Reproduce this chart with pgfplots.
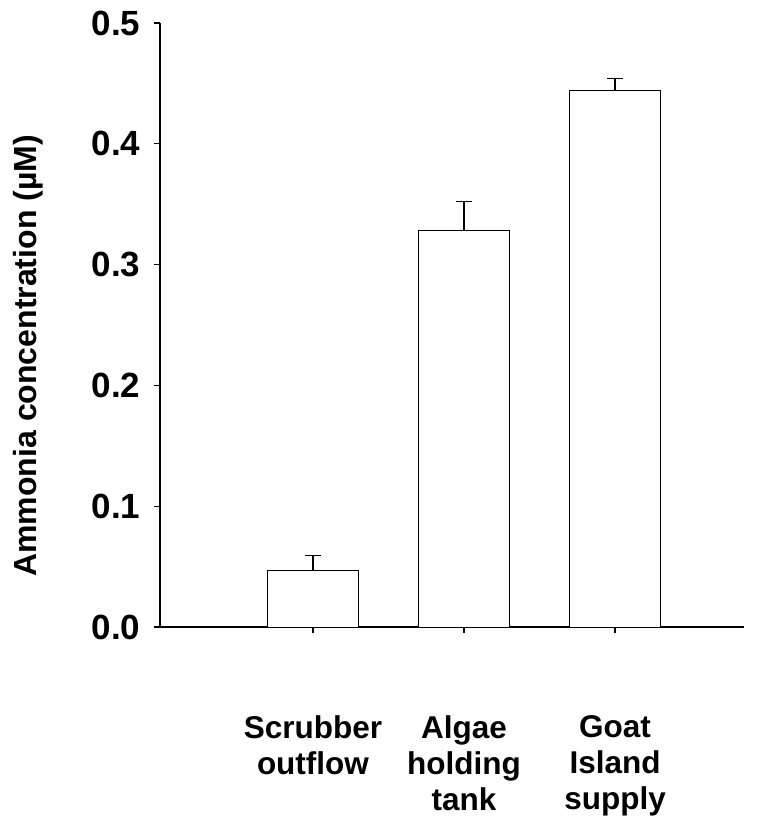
\documentclass[border=0pt]{standalone}
\usepackage{fontspec}
\setmainfont{Liberation Sans}
\usepackage{pgfplots}
\pgfplotsset{compat=1.18}
\begin{document}
\begin{tikzpicture}
\path[use as bounding box] (-160pt,-193pt) rectangle (599pt,627pt);
\begin{axis}[
  at={(0,0)}, anchor=south west,
  scale only axis, width=584pt, height=604pt,
  xmin=-1.013, xmax=2.854, ymin=0, ymax=0.5,
  axis lines=left, axis line style={-, line width=1.2pt},
  tick align=outside, tick style={black, line width=1.2pt},
  major tick length=6pt,
  xtick={0,1,2},
  xticklabels={Scrubber\\outflow, Algae\\holding\\tank, Goat\\Island\\supply},
  xticklabel style={align=center, anchor=north, yshift=-79pt, font=\fontsize{31.5}{36}\selectfont\bfseries},
  ytick={0,0.1,0.2,0.3,0.4,0.5},
  yticklabel style={font=\fontsize{35}{40}\selectfont\bfseries, xshift=-10pt},
  /pgf/number format/assume math mode=true,
  yticklabel={\pgfmathprintnumber[fixed, fixed zerofill, precision=1]{\tick}},
  ylabel={Ammonia concentration (µM)},
  ylabel style={font=\fontsize{32}{36}\selectfont\bfseries, at={(axis description cs:-0.226,0.449)}, anchor=center},
  ybar, bar width=0.6, bar shift=0pt,
]
\addplot[fill=white, draw=black, line width=1pt,
  error bars/.cd, y dir=plus, y explicit,
  error bar style={line width=1.2pt, black},
  error mark options={rotate=90, mark size=8pt, line width=1.2pt, black}]
  coordinates {
  (0,0.047) +- (0,0.012)
  (1,0.328) +- (0,0.024)
  (2,0.444) +- (0,0.010)
};
\end{axis}
\end{tikzpicture}
\end{document}
